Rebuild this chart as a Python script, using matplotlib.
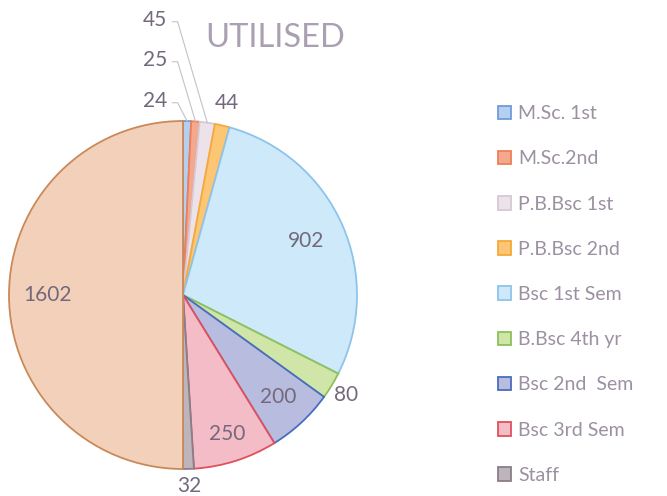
import numpy as np
import matplotlib.pyplot as plt

plt.rcParams["font.family"] = ["Lato", "DejaVu Sans"]

categories = ["M.Sc. 1st", "M.Sc.2nd", "P.B.Bsc 1st", "P.B.Bsc 2nd", "Bsc 1st Sem",
              "B.Bsc 4th yr", "Bsc 2nd  Sem", "Bsc 3rd Sem", "Staff", ""]
values = [24, 25, 45, 44, 902, 80, 200, 250, 32, 1602]

fills = ["#b4d0ee", "#f5a98c", "#ece2ea", "#fcc674", "#cde9fa",
         "#cfe6a8", "#b8bde0", "#f4bcc6", "#bdb4bc", "#f3d0b9"]
edges = ["#6f9bd8", "#ee7f5a", "#d8c8d4", "#f6a93a", "#8ec4ea",
         "#8dc05a", "#4a6cc0", "#e0505c", "#8a7e88", "#c98a5a"]

# label placement: radius as fraction of pie radius (None = placed by hand)
label_r = [None, None, None, 1.13, 0.77, 1.1, 0.8, 0.84, 1.1, 0.78]
manual = {0: (155, 101), 1: (155, 60), 2: (155, 20)}  # pixel positions of stacked labels

cx, cy, R = 183, 295, 174


def px(x, y):
    return (x - cx) / R, (cy - y) / R


fig = plt.figure(figsize=(6.67, 4.96), dpi=100)
ax = fig.add_axes([0, 0, 1, 1])
wedges, _ = ax.pie(values, colors=fills, startangle=90, counterclock=False,
                   wedgeprops=dict(linewidth=1.3))
for w, ec in zip(wedges, edges):
    w.set_edgecolor(ec)

x0, y0 = px(0, 496)
x1, y1 = px(667, 0)
ax.set_xlim(x0, x1)
ax.set_ylim(y0, y1)
ax.set_aspect("equal")
ax.axis("off")

lab_col = "#74697c"
for i, w in enumerate(wedges):
    mid = np.deg2rad((w.theta1 + w.theta2) / 2)
    if i in manual:
        tx, ty = px(*manual[i])
        ax.text(tx, ty, str(values[i]), ha="center", va="center", fontsize=15, color=lab_col)
        ex, ey = np.cos(mid), np.sin(mid)
        sx = tx + 0.1
        ax.plot([sx, sx + 0.03, ex], [ty - 0.01, ty - 0.01, ey], color="#c8c0c8", lw=0.8)
    else:
        r = label_r[i]
        ax.text(r * np.cos(mid), r * np.sin(mid), str(values[i]), ha="center", va="center",
                fontsize=15, color=lab_col)

tx, ty = px(275, 38)
ax.text(tx, ty, "UTILISED", ha="center", va="center", fontsize=23.5, color="#ab9fb2")

leg = fig.legend(wedges[:9], categories[:9], loc="upper left", bbox_to_anchor=(0.72, 0.823),
                 frameon=False, fontsize=14, labelspacing=1.45, handlelength=0.7,
                 handleheight=0.7, handletextpad=0.35, labelcolor="#9c90a2")

fig.savefig("out.png", dpi=100)
